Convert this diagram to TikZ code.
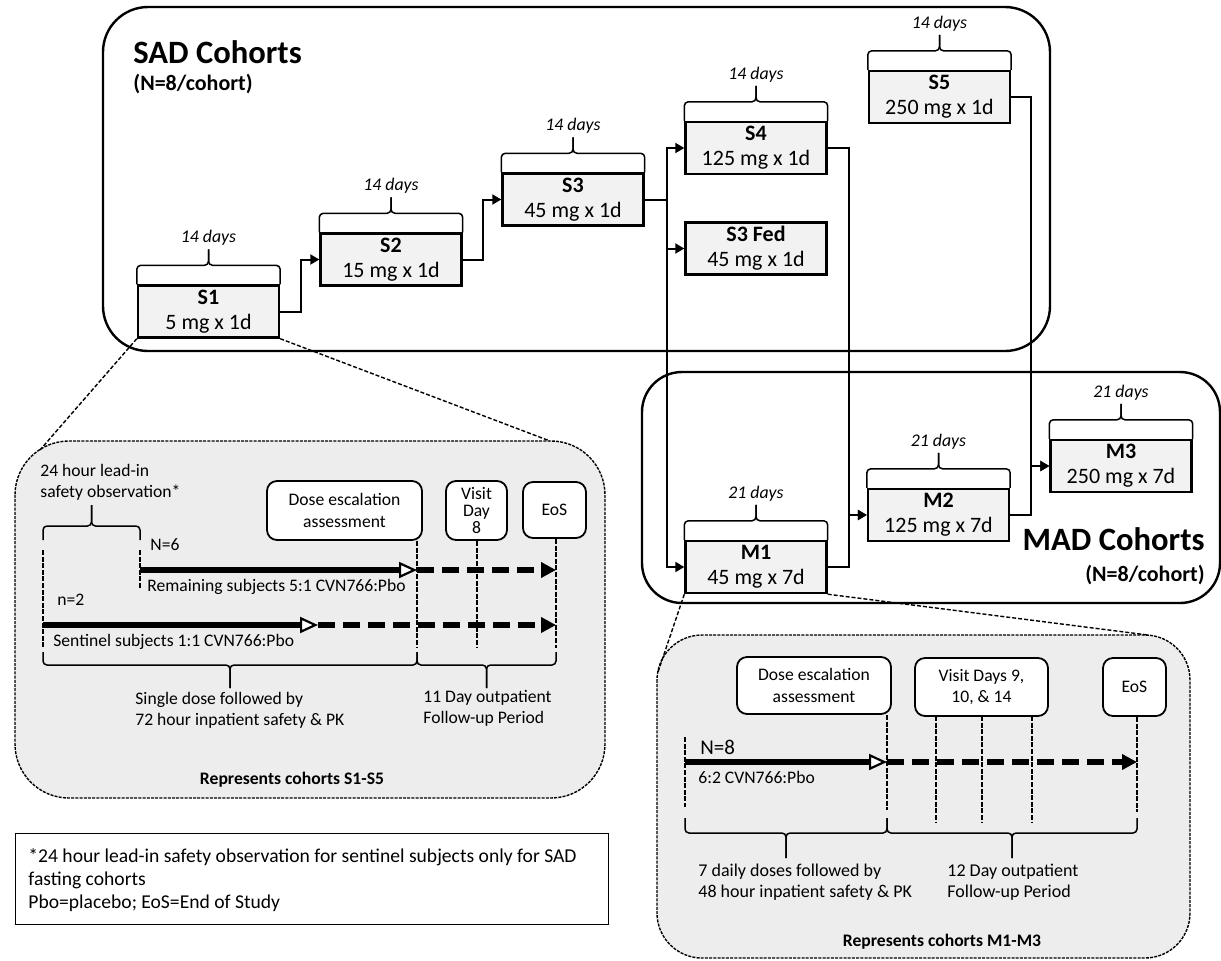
\documentclass[tikz,border=0pt]{standalone}
\usepackage{fontspec}
\setmainfont{Carlito}
\usetikzlibrary{positioning, arrows.meta, calc}

\definecolor{boxgray}{HTML}{F2F2F2}
\definecolor{insetgray}{HTML}{EDEDED}

% square brace: two ends, leg, nub, optional label at the nub
\newcommand{\spanbrace}[5]{%
    \draw[brc] (#1) -- ++(0,#3) -- ($(#1)!.5!(#2)+(0,#3)$) -- ++(0,#4) #5;
    \draw[brc] (#2) -- ++(0,#3) -- ($(#1)!.5!(#2)+(0,#3)$) -- ++(0,#4);
}

\begin{document}
\begin{tikzpicture}[
        x=0.5pt, y=-0.5pt,
        cohort/.style={
            draw, line width=1.2pt, fill=boxgray,
            minimum width=70.5pt, minimum height=26pt,
            align=center, inner sep=0pt,
            font=\fontsize{11}{12.5}\selectfont
        },
        days/.style={above, inner sep=1.5pt, font=\fontsize{8.9}{10}\selectfont\itshape},
        wire/.style={line width=1pt},
        link/.style={wire, -{Triangle[length=4.5pt, width=5pt]}},
        frame/.style={line width=1.2pt, rounded corners=22.5pt},
        inset/.style={line width=0.7pt, dash pattern=on 1.5pt off 0.6pt,
            fill=insetgray, rounded corners=27pt},
        zoomln/.style={line width=0.7pt, dash pattern=on 2pt off 1pt},
        event/.style={draw, line width=0.9pt, fill=white, rounded corners=5pt,
            align=center, inner sep=0pt, font=\fontsize{8.8}{10.8}\selectfont},
        txt/.style={inner sep=1pt, align=left, font=\fontsize{8.8}{10.5}\selectfont},
        dosing/.style={line width=3pt,
            -{Triangle[length=9pt, width=8pt, fill=white, line width=1.1pt]}},
        follow/.style={line width=3pt, dash pattern=on 8.5pt off 4pt,
            -{Triangle[length=7.5pt, width=7.5pt]}},
        tick/.style={line width=1pt, dash pattern=on 2.5pt off 0.8pt},
        brc/.style={line width=0.75pt, rounded corners=2pt},
        repr/.style={font=\fontsize{8.8}{10}\selectfont\bfseries, inner sep=1pt}
    ]
    \useasboundingbox (0,0) rectangle (1221,960);

    % cohort frames
    \draw[frame] (103,7) rectangle (1050,351);
    \draw[frame, rounded corners=20pt] (642,372) rectangle (1220,603);

    % detail panels
    \draw[inset] (15,441) rectangle (605,798);
    \draw[inset, rounded corners=22.5pt] (657,635) rectangle (1190,958);

    % SAD cohorts
    \node[cohort] (S1) at (208.5,311.5) {\textbf{S1}\\5 mg x 1d};
    \node[cohort] (S2) at (391,259.5) {\textbf{S2}\\15 mg x 1d};
    \node[cohort] (S3) at (573,199.5) {\textbf{S3}\\45 mg x 1d};
    \node[cohort] (S4) at (756,148) {\textbf{S4}\\125 mg x 1d};
    \node[cohort] (S3F) at (756,248.5) {\textbf{S3 Fed}\\45 mg x 1d};
    \node[cohort] (S5) at (939.5,97) {\textbf{S5}\\250 mg x 1d};

    % MAD cohorts
    \node[cohort] (M1) at (756,567) {\textbf{M1}\\45 mg x 7d};
    \node[cohort] (M2) at (938.5,515) {\textbf{M2}\\125 mg x 7d};
    \node[cohort] (M3) at (1121,466) {\textbf{M3}\\250 mg x 7d};

    % titles
    \node[font=\fontsize{16.3}{18}\selectfont\bfseries, anchor=base west, inner sep=0pt]
        (sadtitle) at (133,63) {SAD Cohorts};
    \node[font=\fontsize{11}{13}\selectfont\bfseries, anchor=base west, inner sep=0pt]
        (sadn) at (133,90) {(N=8/cohort)};
    \node[font=\fontsize{16.3}{18}\selectfont\bfseries, anchor=base east, inner sep=0pt]
        (madtitle) at (1205,550) {MAD Cohorts};
    \node[font=\fontsize{11}{13}\selectfont\bfseries, anchor=base east, inner sep=0pt]
        (madn) at (1205,581) {(N=8/cohort)};

    % duration braces
    \spanbrace{S1.north west}{S1.north east}{-19}{-16}{node[days] (dS1) {14 days}}
    \spanbrace{S2.north west}{S2.north east}{-19}{-16}{node[days] (dS2) {14 days}}
    \spanbrace{S3.north west}{S3.north east}{-19}{-16}{node[days] (dS3) {14 days}}
    \spanbrace{S4.north west}{S4.north east}{-19}{-16}{node[days] (dS4) {14 days}}
    \spanbrace{S5.north west}{S5.north east}{-19}{-16}{node[days] (dS5) {14 days}}
    \spanbrace{M1.north west}{M1.north east}{-19}{-16}{node[days] (dM1) {21 days}}
    \spanbrace{M2.north west}{M2.north east}{-19}{-16}{node[days] (dM2) {21 days}}
    \spanbrace{M3.north west}{M3.north east}{-19}{-16}{node[days] (dM3) {21 days}}

    % escalation links
    \draw[link] (S1.east) -- ++(21,0) |- (S2.west);
    \draw[link] (S2.east) -- ++(20,0) |- (S3.west);
    \draw[wire] (S3.east) -- ++(22,0) coordinate (fork);
    \draw[link] (fork) |- (S4.west);
    \draw[link] (fork) |- (S3F.west);
    \draw[link] (fork) |- (M1.west);
    \draw[link] (S4.east) -- ++(21,0) |- (M2.west);
    \draw[link] (M1.east) -- ++(21,0) |- (M2.west);
    \draw[link] (S5.east) -- ++(20,0) |- (M3.west);
    \draw[link] (M2.east) -- ++(21,0) |- (M3.west);

    % zoom lines
    \coordinate (llL) at (40,450);
    \coordinate (llR) at (550,441);
    \coordinate (lrL) at (658,672);
    \coordinate (lrR) at (1148,635);
    \draw[zoomln] (S1.south west) -- (llL);
    \draw[zoomln] (S1.south east) -- (llR);
    \draw[zoomln] (M1.south west) -- (lrL);
    \draw[zoomln] (M1.south east) -- (lrR);

    % single dose panel
    \node[txt, anchor=west] (leadin) at (38,482.5) {24 hour lead-in\\safety observation*};
    \spanbrace{43,540}{140,540}{-14}{-21}{}

    \node[event, minimum width=77.5pt, minimum height=29.5pt] (doseA) at (344.5,510.5)
        {Dose escalation\\assessment};
    \node[event, minimum width=30.5pt, minimum height=29.5pt,
          font=\fontsize{8.8}{8.6}\selectfont] (visitA) at (476.5,510.5) {Visit\\Day\\8};
    \node[event, minimum width=31.5pt, minimum height=28pt] (eosA) at (554.5,510) {EoS};

    \coordinate (a6) at (140,570);
    \coordinate (b6) at (417,570);
    \coordinate (c6) at (556,570);
    \coordinate (a2) at (43,625);
    \coordinate (b2) at (318,625);
    \coordinate (c2) at (556,625);

    \draw[tick] (43,550) -- (43,647);
    \draw[tick] (140,550) -- (140,588);
    \draw[tick] (doseA.south -| b6) -- (417,647);
    \draw[tick] (visitA.south) -- (476.5,647);
    \draw[tick] (eosA.south -| c6) -- (556,648);

    \draw[dosing] (a6) -- (b6);
    \draw[follow] (b6) -- (c6);
    \draw[dosing] (a2) -- (b2);
    \draw[follow] (b2) -- (c2);

    \node[txt, anchor=west] (n6) at (148,545) {N=6};
    \node[txt, anchor=west] (rem) at (145,587) {Remaining subjects 5:1 CVN766:Pbo};
    \node[txt, anchor=west] (n2) at (55,600) {n=2};
    \node[txt, anchor=west] (sen) at (51,642) {Sentinel subjects 1:1 CVN766:Pbo};

    \spanbrace{43,652}{417,652}{13}{23}{}
    \spanbrace{417,652}{556,652}{13}{23}{}
    \node[txt, anchor=west] (inpA) at (133,710.5)
        {Single dose followed by\\72 hour inpatient safety \& PK};
    \node[txt, anchor=west] (outA) at (421,708) {11 Day outpatient\\Follow-up Period};
    \node[repr] (repA) at (292,780) {Represents cohorts S1-S5};

    % multiple dose panel
    \node[event, minimum width=77pt, minimum height=28.5pt] (doseB) at (814,685.5)
        {Dose escalation\\assessment};
    \node[event, minimum width=66.5pt, minimum height=29pt] (visitB) at (981.5,687)
        {Visit Days 9,\\10, \& 14};
    \node[event, minimum width=31.5pt, minimum height=29pt] (eosB) at (1134.5,687) {EoS};

    \coordinate (a8) at (685,762);
    \coordinate (b8) at (887,762);
    \coordinate (c8) at (1137,762);

    \draw[tick] (685,737) -- (685,807);
    \draw[tick] (doseB.south -| b8) -- (887,810);
    \foreach \vx in {936,982,1032}
        \draw[tick] (\vx,716) -- (\vx,822);
    \draw[tick] (eosB.south -| c8) -- (1137,812);

    \draw[dosing] (a8) -- (b8);
    \draw[follow] (b8) -- (c8);

    \node[txt, anchor=west, font=\fontsize{10.5}{12}\selectfont] (n8) at (698,747) {N=8};
    \node[txt, anchor=west] (ratio) at (696,777) {6:2 CVN766:Pbo};

    \spanbrace{685,818}{887,818}{15}{25}{}
    \spanbrace{887,818}{1137,818}{15}{25}{}
    \node[txt, anchor=west, font=\fontsize{9}{10.5}\selectfont] (inpB) at (696,882.5)
        {7 daily doses followed by\\48 hour inpatient safety \& PK};
    \node[txt, anchor=west, font=\fontsize{9}{10.5}\selectfont] (outB) at (945,882.5)
        {12 Day outpatient\\Follow-up Period};
    \node[repr] (repB) at (942,942) {Represents cohorts M1-M3};

    % footnote
    \node[draw, line width=0.7pt, anchor=north west, minimum width=296.5pt,
          minimum height=45.5pt] (note) at (15,833) {};
    \node[txt, anchor=west, font=\fontsize{9.8}{11.5}\selectfont] (notetxt) at (26,880)
        {*24 hour lead-in safety observation for sentinel subjects only for SAD\\
         fasting cohorts\\Pbo=placebo; EoS=End of Study};

\end{tikzpicture}
\end{document}
